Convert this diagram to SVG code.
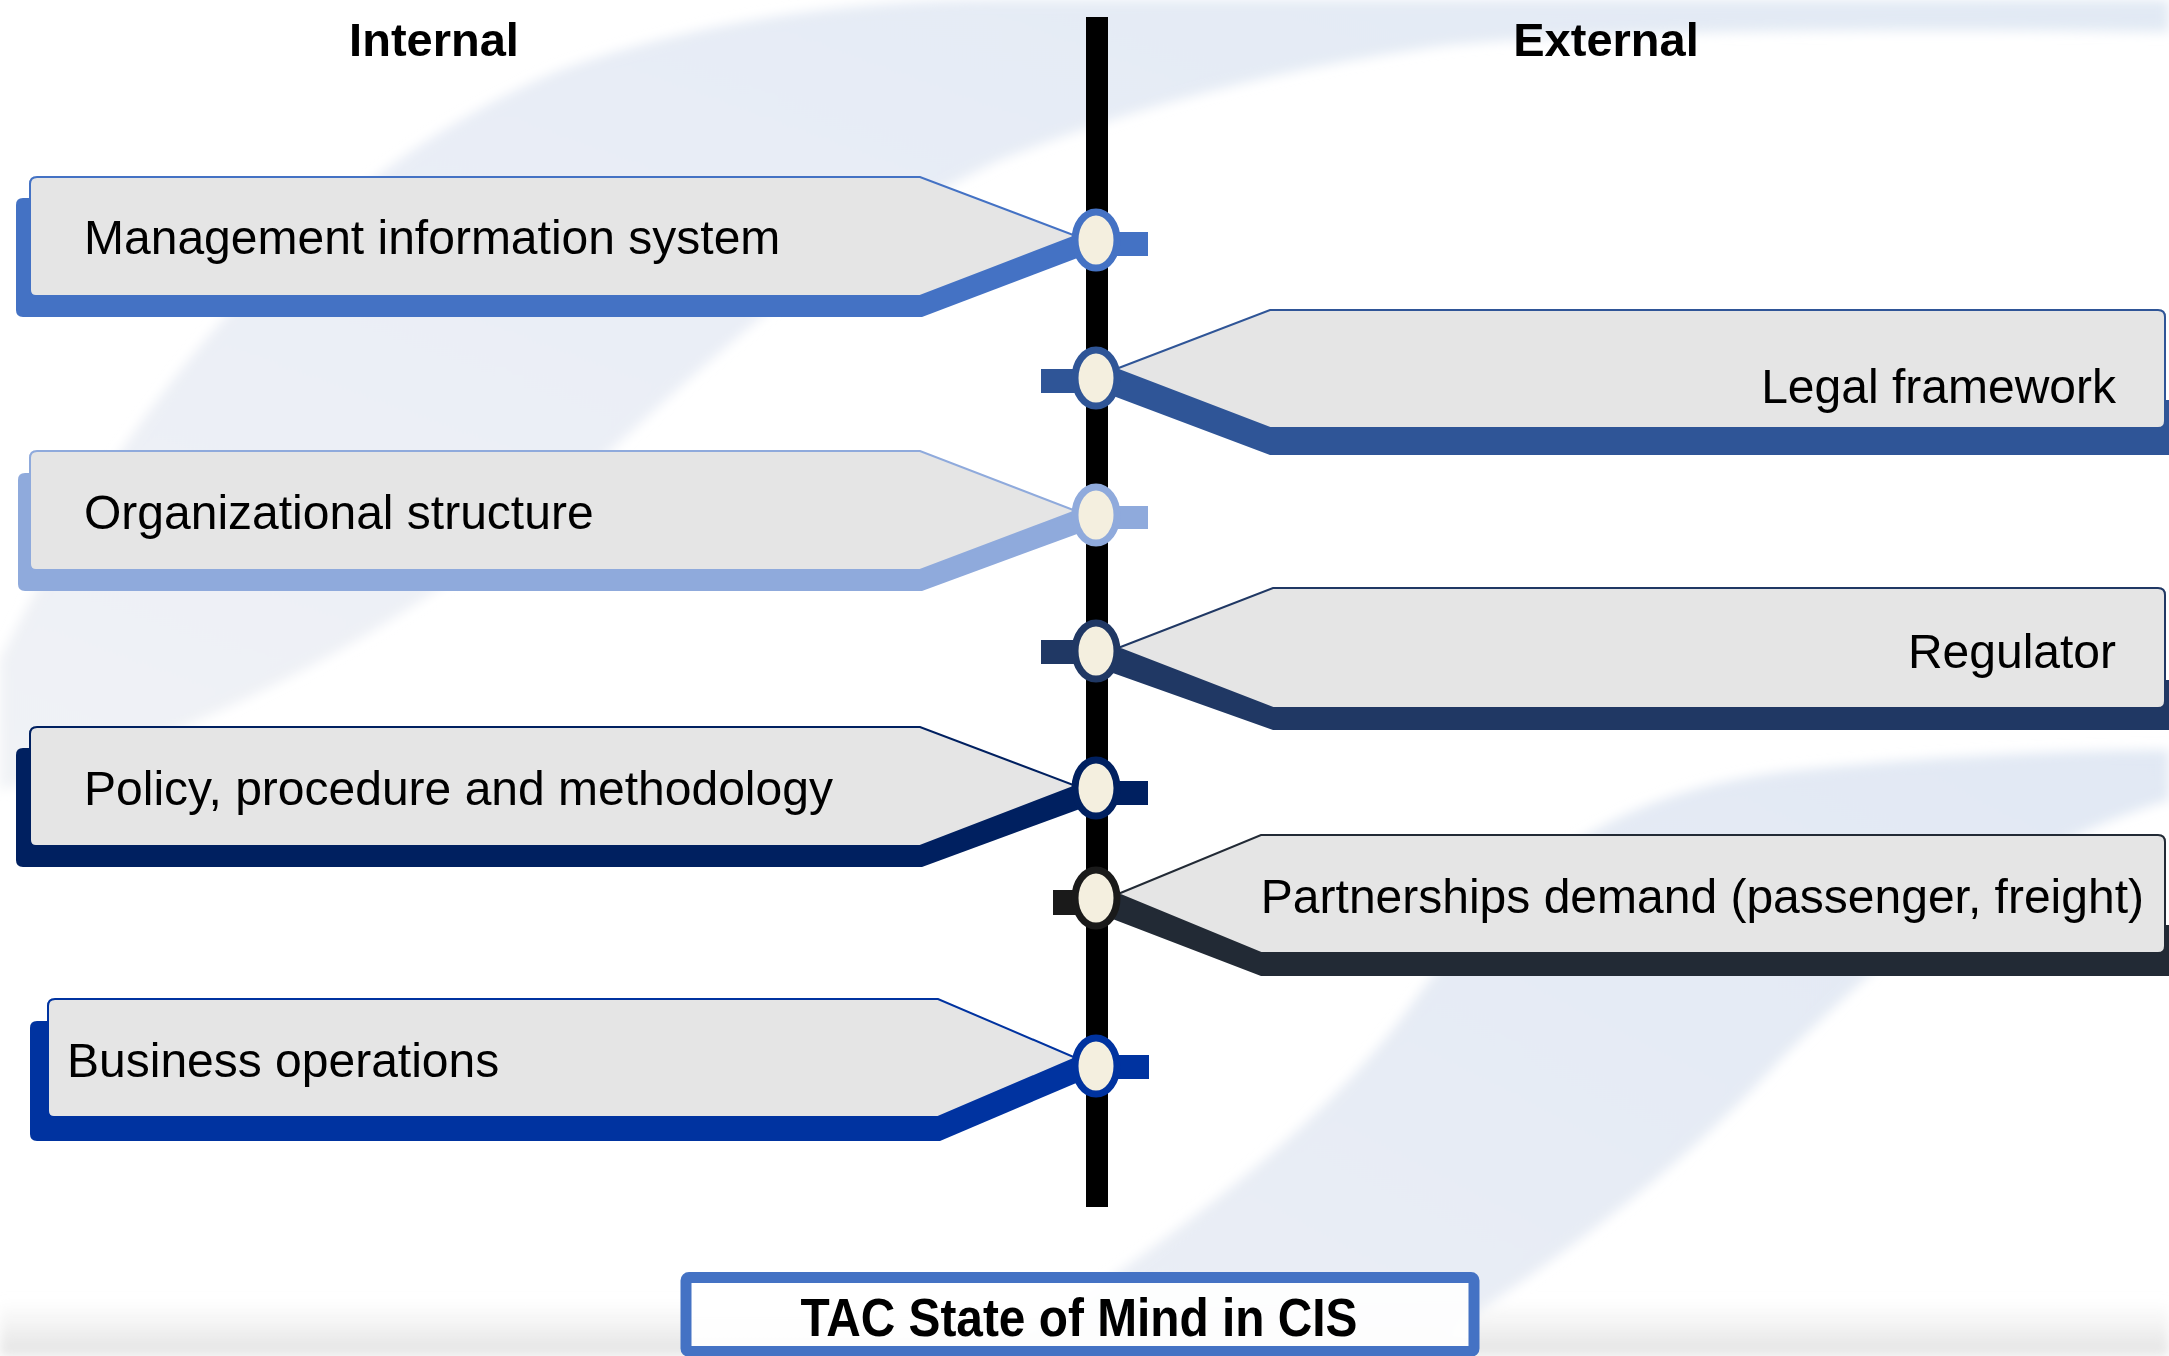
<svg xmlns="http://www.w3.org/2000/svg" width="2169" height="1356" viewBox="0 0 2169 1356">
<defs>
<linearGradient id="swA" x1="0" y1="1" x2="1" y2="0">
<stop offset="0" stop-color="#EEF0F4"/>
<stop offset="0.5" stop-color="#E6EBF5"/>
<stop offset="1" stop-color="#DCE6F2"/>
</linearGradient>
<linearGradient id="swB" x1="0" y1="1" x2="1" y2="0">
<stop offset="0" stop-color="#E8ECF4"/>
<stop offset="1" stop-color="#DCE5F2"/>
</linearGradient>
<linearGradient id="band" x1="0" y1="0" x2="0" y2="1">
<stop offset="0" stop-color="#E6E6E6" stop-opacity="0"/>
<stop offset="1" stop-color="#E2E2E2" stop-opacity="1"/>
</linearGradient>
<filter id="soft" x="-5%" y="-5%" width="110%" height="110%"><feGaussianBlur stdDeviation="6"/></filter>
</defs>
<style>
.face{fill:#E5E5E5;stroke-width:2}
.lbl{font-family:"Liberation Sans",Arial,sans-serif;font-size:48px;fill:#000}
.hdr{font-family:"Liberation Sans",Arial,sans-serif;font-size:47px;font-weight:bold;fill:#000;text-anchor:middle}
.dot{fill:#F4EFDF;stroke-width:7}
</style>
<rect width="2169" height="1356" fill="#FFFFFF"/>
<g id="background" filter="url(#soft)">
<path d="M 0,660 C 80,500 250,200 560,70 C 700,20 850,0 1000,0 L 2169,0 L 2169,32 C 1900,28 1600,30 1450,45 C 1300,65 1150,100 1000,160 C 850,230 720,350 600,460 C 450,600 250,720 0,790 Z" fill="url(#swA)" opacity="0.85"/>
<path d="M 1000,1356 C 1150,1250 1300,1150 1400,1020 C 1500,880 1600,790 1800,770 C 1950,755 2080,750 2169,750 L 2169,800 C 2000,850 1880,960 1780,1060 C 1680,1170 1560,1260 1410,1356 Z" fill="url(#swB)" opacity="0.85"/>
<rect x="0" y="1300" width="2169" height="56" fill="url(#band)"/>
</g>
<text class="hdr" x="434" y="56">Internal</text>
<text class="hdr" x="1606" y="56">External</text>
<g id="connectors">
<rect x="1086" y="17" width="22" height="1190" fill="#000"/>
</g>
<g id="node-mis">
<path d="M 16,205 Q 16,198 23,198 L 920,198 L 1076,236 L 1088,254 L 922,317 L 23,317 Q 16,317 16,310 Z" fill="#4472C4"/>
<path class="face" d="M 30,184 Q 30,177 37,177 L 920,177 L 1076,236 L 920,296 L 36,296 Q 30,296 30,290 Z" stroke="#4472C4"/>
<rect x="1096" y="232" width="52" height="24" fill="#4472C4"/>
<ellipse class="dot" cx="1096" cy="240" rx="21" ry="28" stroke="#4472C4"/>
<text class="lbl" x="84" y="254">Management information system</text>
</g>
<g id="node-legal">
<path d="M 1116,369 L 1270,400 L 2169,400 L 2169,455 L 1270,455 L 1108,394 Z" fill="#2F5597"/>
<path class="face" d="M 1116,369 L 1270,310 L 2158,310 Q 2165,310 2165,317 L 2165,421 Q 2165,428 2158,428 L 1270,428 Z" stroke="#2F5597"/>
<rect x="1041" y="369" width="55" height="24" fill="#2F5597"/>
<ellipse class="dot" cx="1096" cy="378" rx="21" ry="28" stroke="#2F5597"/>
<text class="lbl" x="2116" y="403" text-anchor="end">Legal framework</text>
</g>
<g id="node-org">
<path d="M 18,480 Q 18,473 25,473 L 920,473 L 1076,511 L 1088,530 L 922,591 L 25,591 Q 18,591 18,584 Z" fill="#8FAADC"/>
<path class="face" d="M 30,458 Q 30,451 37,451 L 920,451 L 1076,511 L 920,570 L 36,570 Q 30,570 30,564 Z" stroke="#8FAADC"/>
<rect x="1096" y="506" width="52" height="23" fill="#8FAADC"/>
<ellipse class="dot" cx="1096" cy="515" rx="21" ry="28" stroke="#8FAADC"/>
<text class="lbl" x="84" y="529">Organizational structure</text>
</g>
<g id="node-regulator">
<path d="M 1118,648 L 1273,680 L 2169,680 L 2169,730 L 1273,730 L 1110,672 Z" fill="#203864"/>
<path class="face" d="M 1118,648 L 1273,588 L 2158,588 Q 2165,588 2165,595 L 2165,701 Q 2165,708 2158,708 L 1273,708 Z" stroke="#203864"/>
<rect x="1041" y="640" width="55" height="24" fill="#203864"/>
<ellipse class="dot" cx="1096" cy="651" rx="21" ry="28" stroke="#203864"/>
<text class="lbl" x="2116" y="668" text-anchor="end">Regulator</text>
</g>
<g id="node-policy">
<path d="M 16,755 Q 16,748 23,748 L 920,748 L 1076,786 L 1088,806 L 922,867 L 23,867 Q 16,867 16,860 Z" fill="#002060"/>
<path class="face" d="M 30,734 Q 30,727 37,727 L 920,727 L 1076,786 L 920,846 L 36,846 Q 30,846 30,840 Z" stroke="#002060"/>
<rect x="1096" y="781" width="52" height="24" fill="#002060"/>
<ellipse class="dot" cx="1096" cy="788" rx="21" ry="28" stroke="#002060"/>
<text class="lbl" x="84" y="805">Policy, procedure and methodology</text>
</g>
<g id="node-partnerships">
<path d="M 1118,894 L 1261,925 L 2169,925 L 2169,976 L 1261,976 L 1110,918 Z" fill="#222A35"/>
<path class="face" d="M 1118,894 L 1261,835 L 2158,835 Q 2165,835 2165,842 L 2165,946 Q 2165,953 2158,953 L 1261,953 Z" stroke="#222A35"/>
<rect x="1053" y="890" width="43" height="25" fill="#1A1A1A"/>
<ellipse class="dot" cx="1096" cy="898" rx="21" ry="28" stroke="#1A1A1A"/>
<text class="lbl" x="2144" y="913" text-anchor="end">Partnerships demand (passenger, freight)</text>
</g>
<g id="node-business">
<path d="M 30,1028 Q 30,1021 37,1021 L 938,1021 L 1076,1058 L 1088,1078 L 940,1141 L 37,1141 Q 30,1141 30,1134 Z" fill="#0033A0"/>
<path class="face" d="M 48,1006 Q 48,999 55,999 L 938,999 L 1076,1058 L 938,1117 L 54,1117 Q 48,1117 48,1111 Z" stroke="#0033A0"/>
<rect x="1096" y="1055" width="53" height="24" fill="#0033A0"/>
<ellipse class="dot" cx="1096" cy="1066" rx="21" ry="28" stroke="#0033A0"/>
<text class="lbl" x="67" y="1077">Business operations</text>
</g>
<g id="node-title">
<rect x="686" y="1277.5" width="788" height="74" rx="3" fill="#FFFFFF" fill-opacity="0.9" stroke="#4472C4" stroke-width="11"/>
<text x="1079" y="1336" text-anchor="middle" font-family="'Liberation Sans', Arial, sans-serif" font-size="53" font-weight="bold" textLength="557" lengthAdjust="spacingAndGlyphs">TAC State of Mind in CIS</text>
</g>
</svg>
